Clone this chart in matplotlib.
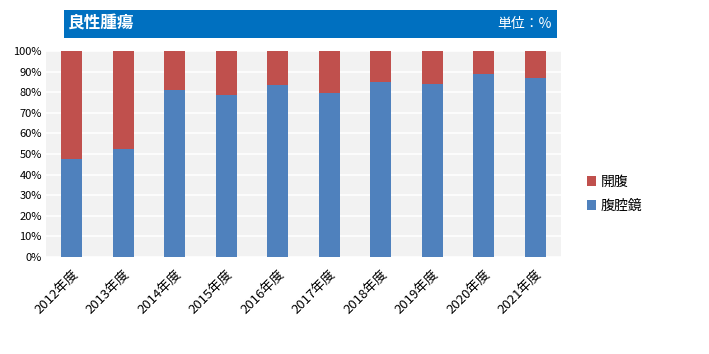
import matplotlib
matplotlib.use('Agg')
from matplotlib import pyplot as plt
import numpy as np

plt.rcParams['font.family'] = ['Noto Sans CJK JP', 'DejaVu Sans']

years = ['2012年度', '2013年度', '2014年度', '2015年度', '2016年度',
         '2017年度', '2018年度', '2019年度', '2020年度', '2021年度']
laparoscopy = [47.6, 52.4, 81.2, 78.6, 83.5, 79.6, 85.1, 84.1, 89.0, 87.0]
open_surgery = [100 - v for v in laparoscopy]

blue = '#4F81BD'
red = '#C0504D'

fig = plt.figure(figsize=(7.09, 3.54), dpi=100)
ax = fig.add_axes([46/709, 1 - 257/354, 515/709, 206/354])
ax.set_facecolor('#F2F2F2')

x = np.arange(len(years))
ax.bar(x, laparoscopy, 0.4, color=blue, label='腹腔鏡', zorder=3)
ax.bar(x, open_surgery, 0.4, bottom=laparoscopy, color=red, label='開腹', zorder=3)

ax.set_xlim(-0.5, len(years) - 0.5)
ax.set_ylim(0, 100)
ax.set_yticks(np.arange(0, 101, 10))
ax.set_yticklabels([f'{v}%' for v in range(0, 101, 10)], fontsize=8)
ax.set_xticks(x)
ax.set_xticklabels(years, rotation=45, ha='right', rotation_mode='anchor', fontsize=9.5)
ax.tick_params(axis='y', length=0, pad=3)
ax.tick_params(axis='x', length=0, pad=8)
ax.grid(axis='y', color='white', linewidth=1.2, zorder=1)
for s in ax.spines.values():
    s.set_visible(False)

# title banner
banner = fig.add_axes([64/709, 1 - 38/354, 493/709, 28/354])
banner.set_facecolor('#0070C0')
banner.set_xticks([])
banner.set_yticks([])
for s in banner.spines.values():
    s.set_visible(False)
banner.text(0.008, 0.5, '良性腫瘍', color='white', fontsize=12, fontweight='bold',
            va='center', ha='left', transform=banner.transAxes)
banner.text(0.99, 0.5, '単位：%', color='white', fontsize=10,
            va='center', ha='right', transform=banner.transAxes)

handles, labels = ax.get_legend_handles_labels()
fig.legend(handles[::-1], labels[::-1], loc='center left', bbox_to_anchor=(574/709, 1 - 194/354),
           frameon=False, fontsize=10, handlelength=0.7, handleheight=0.7,
           handletextpad=0.3, labelspacing=0.7)

fig.savefig('out.png', dpi=100)
